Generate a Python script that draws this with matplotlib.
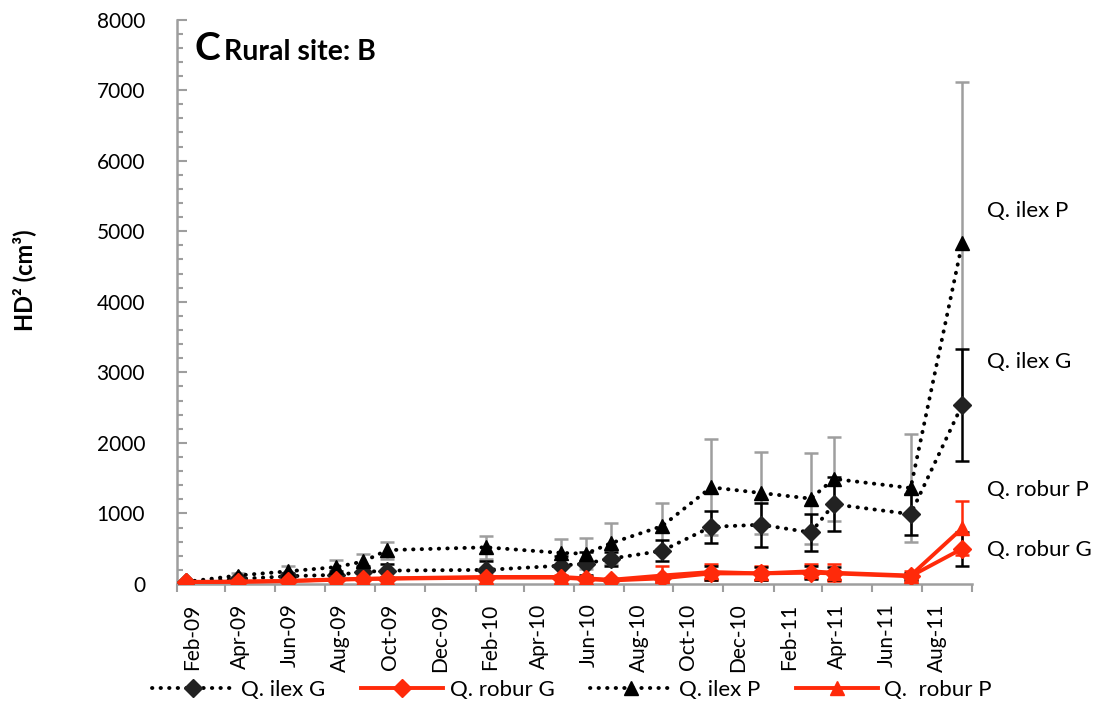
import datetime as dt
import matplotlib.pyplot as plt
import matplotlib.dates as mdates
import matplotlib.transforms as mtransforms
from matplotlib.ticker import MultipleLocator

plt.rcParams['font.family'] = ['Lato', 'DejaVu Sans']

# measurement dates
dates = ['2009-02-12', '2009-04-16', '2009-06-17', '2009-08-15', '2009-09-17',
         '2009-10-16', '2010-02-14', '2010-05-17', '2010-06-16', '2010-07-17',
         '2010-09-17', '2010-11-16', '2011-01-16', '2011-03-18', '2011-04-15',
         '2011-07-18', '2011-09-19']

ilex_G = [25, 70, 110, 130, 170, 190, 200, 260, 290, 360, 470, 810, 840, 730, 1130, 990, 2540]
ilex_G_err = [10, 20, 40, 60, 80, 90, 120, 140, 160, 100, 150, 230, 310, 260, 380, 290, 795]

robur_G = [25, 30, 40, 60, 70, 75, 90, 90, 70, 50, 80, 150, 150, 160, 150, 110, 500]
robur_G_err = [10, 10, 10, 15, 15, 15, 20, 20, 20, 20, 40, 100, 90, 90, 90, 50, 240]

ilex_P = [30, 120, 180, 240, 320, 480, 520, 440, 430, 580, 820, 1370, 1290, 1210, 1490, 1360, 4830]
ilex_P_err = [20, 40, 80, 100, 100, 120, 160, 200, 220, 290, 330, 680, 580, 650, 600, 770, 2290]

robur_P = [30, 35, 45, 65, 75, 80, 100, 100, 80, 60, 120, 170, 150, 180, 160, 120, 790]
robur_P_err = [10, 10, 15, 20, 20, 20, 30, 30, 30, 30, 130, 110, 100, 100, 120, 60, 380]

tick_months = ['2009-02-01', '2009-04-01', '2009-06-01', '2009-08-01', '2009-10-01',
               '2009-12-01', '2010-02-01', '2010-04-01', '2010-06-01', '2010-08-01',
               '2010-10-01', '2010-12-01', '2011-02-01', '2011-04-01', '2011-06-01',
               '2011-08-01']

end_labels = ['Q. ilex P', 'Q. ilex G', 'Q. robur P', 'Q. robur G']
end_label_y = [5280, 3150, 1330, 480]

x = [dt.datetime.strptime(d, '%Y-%m-%d') for d in dates]
ticks = [dt.datetime.strptime(d, '%Y-%m-%d') for d in tick_months]

RED = '#FF2A0A'
GREY = '#9E9E9E'
dots = (0, (0.1, 2.1))

fig = plt.figure(figsize=(11.12, 7.08), dpi=100)
ax = fig.add_axes([177 / 1112, 1 - 584 / 708, (972 - 177) / 1112, (584 - 19.5) / 708])

# error bars first, lines and markers on top
ax.errorbar(x, ilex_P, yerr=ilex_P_err, fmt='none', ecolor=GREY, elinewidth=1.8, capsize=5, capthick=1.8, zorder=2)
ax.errorbar(x, ilex_G, yerr=ilex_G_err, fmt='none', ecolor='black', elinewidth=1.8, capsize=5, capthick=1.8, zorder=2)
ax.errorbar(x, robur_P, yerr=robur_P_err, fmt='none', ecolor=RED, elinewidth=1.8, capsize=5, capthick=1.8, zorder=2)
ax.errorbar(x, robur_G, yerr=robur_G_err, fmt='none', ecolor='black', elinewidth=1.8, capsize=5, capthick=1.8, zorder=2)

l1, = ax.plot(x, ilex_G, color='black', linestyle=dots, dash_capstyle='round', lw=2.8,
              marker='D', ms=9.5, mfc='#222222', mec='#222222', label='Q. ilex G', zorder=3)
l2, = ax.plot(x, robur_G, color=RED, lw=2.8, marker='D', ms=9.5, mfc=RED, mec=RED,
              label='Q. robur G', zorder=4)
l3, = ax.plot(x, ilex_P, color='black', linestyle=dots, dash_capstyle='round', lw=2.8,
              marker='^', ms=10.5, mfc='black', mec='black', label='Q. ilex P', zorder=3)
l4, = ax.plot(x, robur_P, color=RED, lw=2.8, marker='^', ms=10.5, mfc=RED, mec=RED,
              label='Q.  robur P', zorder=4)

ax.set_xlim(dt.datetime(2009, 2, 1), dt.datetime(2011, 10, 1))
ax.set_ylim(0, 8000)

for s in ['top', 'right']:
    ax.spines[s].set_visible(False)
for s in ['left', 'bottom']:
    ax.spines[s].set_color(GREY)
    ax.spines[s].set_linewidth(1.8)

ax.yaxis.set_major_locator(MultipleLocator(1000))
ax.yaxis.set_minor_locator(MultipleLocator(200))
ax.tick_params(axis='y', which='major', direction='in', length=7, width=1.5, color=GREY,
               labelsize=15, pad=23)
ax.tick_params(axis='y', which='minor', direction='in', length=4.5, width=1.5, color=GREY)

ax.set_xticks(ticks)
ax.xaxis.set_major_formatter(mdates.DateFormatter('%b-%y'))
ax.set_xticks([dt.datetime(2011, 10, 1)], minor=True)
ax.tick_params(axis='x', which='both', direction='out', length=6, width=1.5, color=GREY,
               labelsize=15, pad=8)
plt.setp(ax.get_xticklabels(), rotation=90)
shift = mtransforms.ScaledTranslation(15 / 100, 0, fig.dpi_scale_trans)
for lab in ax.get_xticklabels():
    lab.set_transform(lab.get_transform() + shift)

# series names at the right end
trans = mtransforms.blended_transform_factory(ax.transAxes, ax.transData)
for name, yv in zip(end_labels, end_label_y):
    ax.text(1.019, yv, name, transform=trans, fontsize=16, va='center', ha='left')

fig.text(194 / 1112, 1 - 60 / 708, 'C', fontsize=28, fontweight='bold', va='baseline')
fig.text(224 / 1112, 1 - 60 / 708, 'Rural site: B', fontsize=20.5, fontweight='bold', va='baseline')
fig.text(24 / 1112, 1 - 280 / 708, 'HD² (cm³)', rotation=90, fontsize=17, fontweight='bold',
         va='center', ha='center')

fig.legend(handles=[l1, l2, l3, l4], loc='center', bbox_to_anchor=(572 / 1112, 1 - 690 / 708),
           ncol=4, frameon=False, fontsize=16, handlelength=3.7, handletextpad=0.3,
           columnspacing=1.6, numpoints=1)

fig.savefig('out.png', dpi=100)
